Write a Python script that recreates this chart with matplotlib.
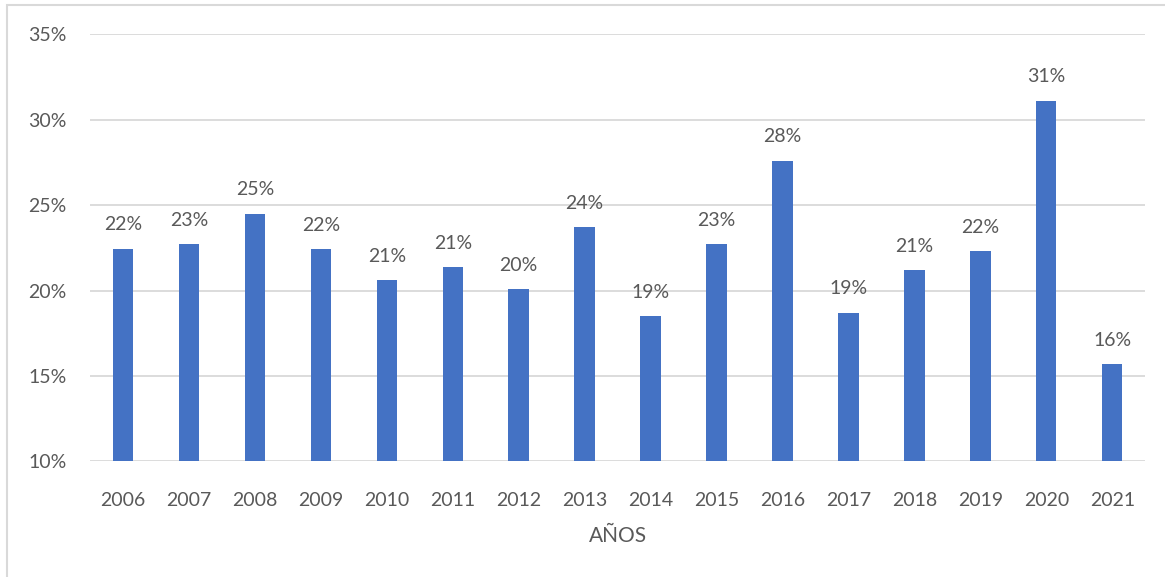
import matplotlib

matplotlib.use("Agg")
import matplotlib.pyplot as plt
from matplotlib.patches import Rectangle
from matplotlib.ticker import FuncFormatter

# data (percent)
years = ["2006", "2007", "2008", "2009", "2010", "2011", "2012", "2013",
         "2014", "2015", "2016", "2017", "2018", "2019", "2020", "2021"]
values = [22.45, 22.7, 24.5, 22.4, 20.6, 21.35, 20.1, 23.7,
          18.5, 22.7, 27.6, 18.7, 21.2, 22.3, 31.1, 15.7]
labels = ["22%", "23%", "25%", "22%", "21%", "21%", "20%", "24%",
          "19%", "23%", "28%", "19%", "21%", "22%", "31%", "16%"]
yticks = [10, 15, 20, 25, 30, 35]

plt.rcParams["font.family"] = ["Lato", "DejaVu Sans"]
txt = "#595959"

fig = plt.figure(figsize=(11.65, 5.77), dpi=100)
ax = fig.add_axes([0.0773, 0.2002, 0.9057, 0.7408])

x = list(range(len(years)))
bars = ax.bar(x, [v - 10 for v in values], bottom=10, width=0.31,
              color="#4472C4", zorder=3)
for b, lab in zip(bars, labels):
    ax.annotate(lab, (b.get_x() + b.get_width() / 2, b.get_y() + b.get_height()),
                xytext=(0, 11), textcoords="offset points",
                ha="center", va="bottom", fontsize=14, color=txt)

ax.set_xlim(-0.5, len(years) - 0.5)
ax.set_ylim(10, 35)
ax.set_yticks(yticks)
ax.yaxis.set_major_formatter(FuncFormatter(lambda v, _: f"{v:.0f}%"))
ax.set_xticks(x)
ax.set_xticklabels(years)
ax.tick_params(axis="both", length=0, labelsize=14, colors=txt)
ax.tick_params(axis="y", pad=17)
ax.tick_params(axis="x", pad=22)
ax.grid(axis="y", color="#D9D9D9", linewidth=1.3, zorder=0)
for s in ax.spines.values():
    s.set_visible(False)
ax.set_xlabel("AÑOS", fontsize=15, color=txt, labelpad=12)

# light frame around the chart (cropped on the right and bottom)
fig.patches.append(Rectangle((7 / 1165, -0.1), 1.2, 1 - 5 / 577 + 0.1,
                             transform=fig.transFigure, fill=False,
                             edgecolor="#D9D9D9", linewidth=1.5))

fig.savefig("out.png", dpi=100)
